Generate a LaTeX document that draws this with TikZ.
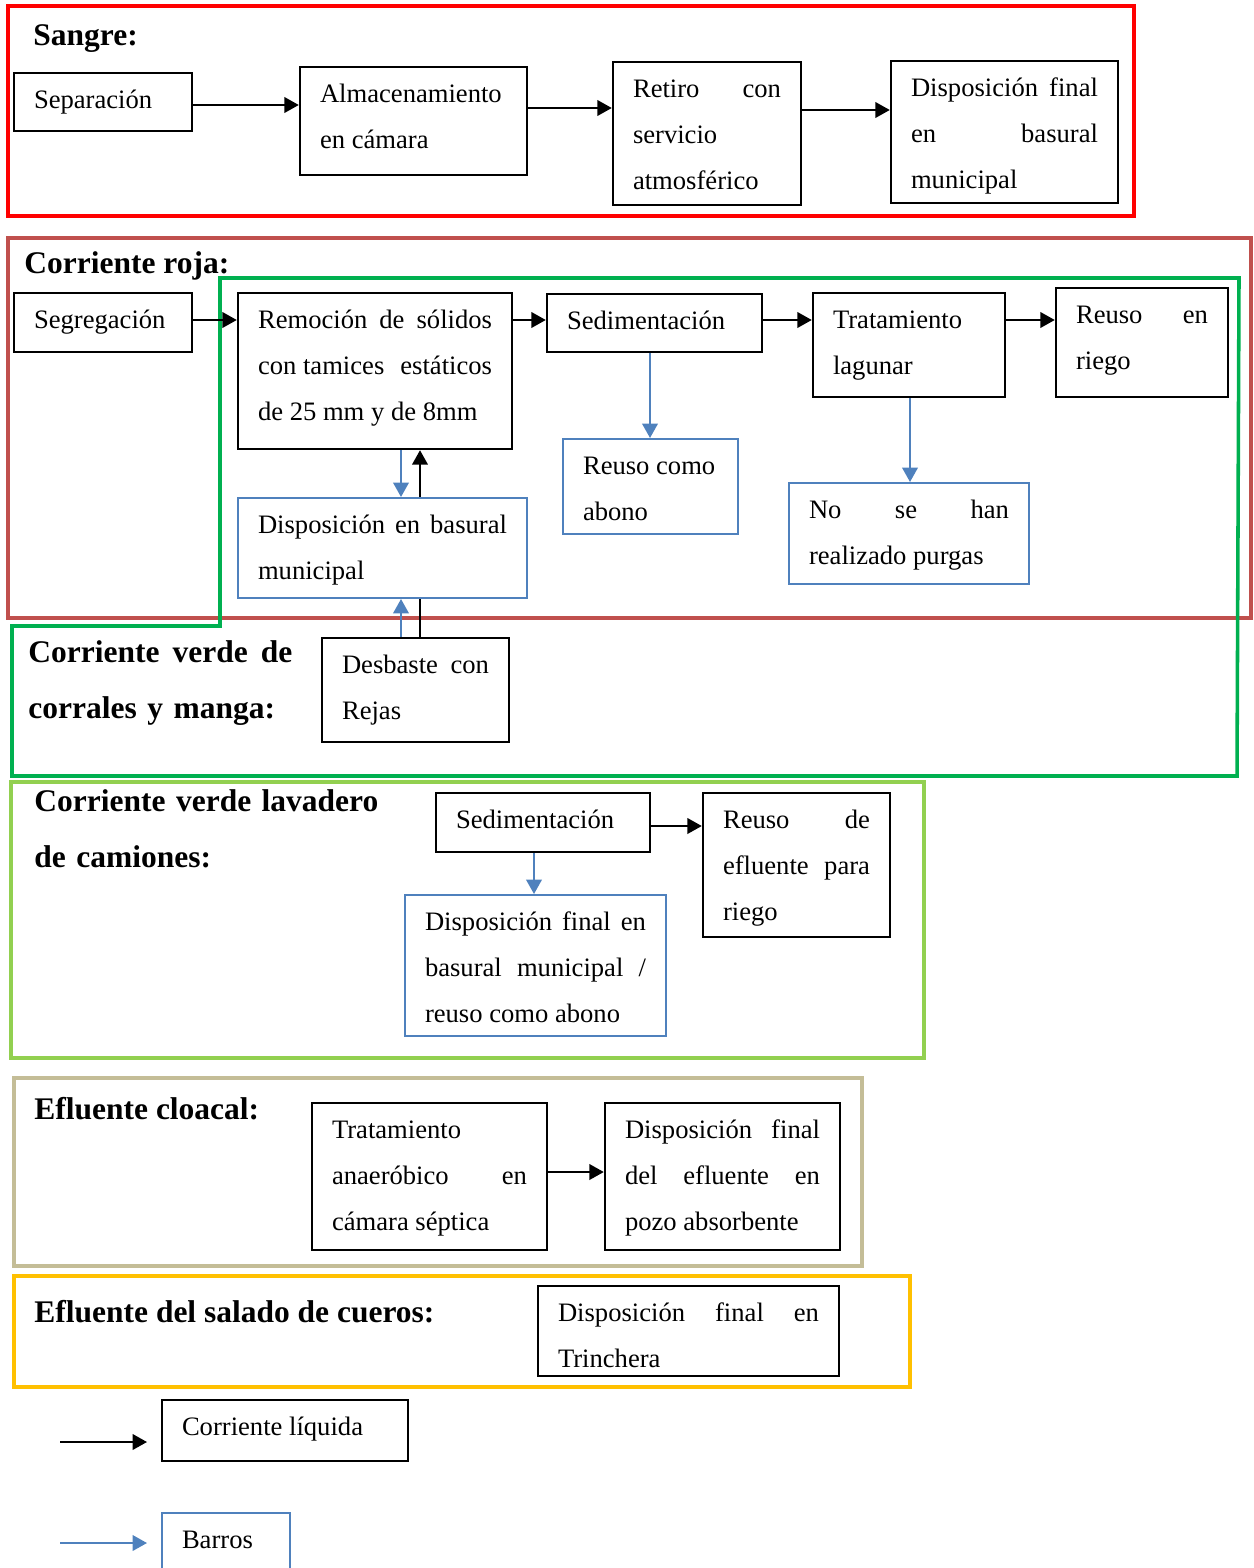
\documentclass[tikz,border=0pt]{standalone}
\usepackage{fontspec}
\setmainfont{Liberation Serif}
\usetikzlibrary{arrows.meta,calc}
\definecolor{cRed}{RGB}{255,0,0}
\definecolor{cRoja}{RGB}{192,80,77}
\definecolor{cGreen}{RGB}{0,176,80}
\definecolor{cLGreen}{RGB}{146,208,80}
\definecolor{cTan}{RGB}{196,189,151}
\definecolor{cGold}{RGB}{255,192,0}
\definecolor{cBlue}{RGB}{79,129,189}
\newcommand\bodyfont{\fontsize{12}{20.75}\selectfont}
\newcommand\headfont{\fontsize{14.2}{25.3}\selectfont\bfseries}
\newcommand\mkbox[7]{%
 \pgfmathsetlengthmacro\bw{(#4-#2)*0.451pt}%
 \pgfmathsetlengthmacro\bh{(#5-#3)*0.451pt}%
 \pgfmathsetlengthmacro\tw{(#4-#2-40)*0.451pt}%
 \node[#6, minimum width=\bw, minimum height=\bh] (#1) at ({(#2+#4)/2},{(#3+#5)/2})
   {\parbox[c][\bh][t]{\tw}{\raggedright\rule{0pt}{15.8pt}#7}};}
\tikzset{
 box/.style={draw=black, line width=1.1pt, inner sep=0pt, font=\bodyfont},
 bbox/.style={box, draw=cBlue, line width=0.9pt},
 frame/.style={line width=1.6pt},
 larr/.style={draw=black, line width=1pt, -{Triangle[length=6.5pt,width=7pt]}},
 barr/.style={draw=cBlue, line width=1pt, -{Triangle[length=6.5pt,width=7pt]}},
 lline/.style={draw=black, line width=1pt},
 head/.style={font=\headfont, inner sep=0pt, anchor=base west, align=left},
}
\begin{document}
\begin{tikzpicture}[x=0.451pt,y=-0.451pt]
\useasboundingbox (0,0) rectangle (1253,1568);
\clip (0,0) rectangle (1253,1568);
% frames
\draw[frame, cRed] (8,6) rectangle (1134,216);
\draw[frame, cRoja] (8,238) rectangle (1251,618);
\draw[frame, cGreen] (220,278) -- (1239,278) -- (1237,776) -- (12,776) -- (12,626) -- (220,626) -- cycle;
\draw[frame, cLGreen] (11,782) rectangle (924,1058);
\draw[frame, cTan] (14,1078) rectangle (862,1266);
\draw[frame, cGold] (14,1276) rectangle (910,1387);
% headings
\node[head] (hS) at (33,46) {Sangre:};
\node[head] (hR) at (24,274) {Corriente roja:};
\pgfmathsetlengthmacro\hw{264*0.451pt}
\node[head, text width=\hw] (hV) at (28,662) {Corriente\hfill verde\hfill de\\corrales y manga:};
\pgfmathsetlengthmacro\hwb{380*0.451pt}
\node[head, text width=\hwb] (hL) at (34,811) {Corriente verde lavadero\\de camiones:};
\node[head] (hC) at (34,1119) {Efluente cloacal:};
\node[head] (hSa) at (34,1322) {Efluente del salado de cueros:};
% Sangre
\mkbox{sep}{14}{73}{192}{131}{box}{Separación}
\mkbox{alm}{300}{67}{527}{175}{box}{Almacenamiento\\en cámara}
\mkbox{ret}{613}{62}{801}{205}{box}{Retiro\hfill con\\servicio\\atmosférico}
\mkbox{dfs}{891}{61}{1118}{203}{box}{Disposición\hfill final\\en\hfill basural\\municipal}
\draw[larr] (sep.east |- 0,105) -- (alm.west |- 0,105);
\draw[larr] (alm.east |- 0,108) -- (ret.west |- 0,108);
\draw[larr] (ret.east |- 0,110) -- (dfs.west |- 0,110);
% Corriente roja
\mkbox{seg}{14}{293}{192}{352}{box}{Segregación}
\mkbox{rem}{238}{293}{512}{449}{box}{Remoción\hfill de\hfill sólidos\\con tamices\hfill estáticos\\de 25 mm y de 8mm}
\mkbox{sed}{547}{294}{762}{352}{box}{Sedimentación}
\mkbox{tra}{813}{293}{1005}{397}{box}{Tratamiento\\lagunar}
\mkbox{reu}{1056}{288}{1228}{397}{box}{Reuso\hfill en\\riego}
\mkbox{abo}{563}{439}{738}{534}{bbox}{Reuso como\\abono}
\mkbox{pur}{789}{483}{1029}{584}{bbox}{No\hfill se\hfill han\\realizado purgas}
\mkbox{dbm}{238}{498}{527}{598}{bbox}{Disposición\hfill en\hfill basural\\municipal}
\mkbox{des}{322}{638}{509}{742}{box}{Desbaste\hfill con\\Rejas}
\draw[larr] (seg.east |- 0,320) -- (rem.west |- 0,320);
\draw[larr] (rem.east |- 0,320) -- (sed.west |- 0,320);
\draw[larr] (sed.east |- 0,320) -- (tra.west |- 0,320);
\draw[larr] (tra.east |- 0,320) -- (reu.west |- 0,320);
\draw[barr] (650,0 |- sed.south) -- (650,0 |- abo.north);
\draw[barr] (910,0 |- tra.south) -- (910,0 |- pur.north);
\draw[barr] (401,0 |- rem.south) -- (401,0 |- dbm.north);
\draw[larr] (420,0 |- dbm.north) -- (420,0 |- rem.south);
\draw[lline] (420,0 |- des.north) -- (420,0 |- dbm.south);
\draw[barr] (401,0 |- des.north) -- (401,0 |- dbm.south);
% Lavadero
\mkbox{sedb}{436}{793}{650}{852}{box}{Sedimentación}
\mkbox{reb}{703}{793}{890}{937}{box}{Reuso\hfill de\\efluente\hfill para\\riego}
\mkbox{dfb}{405}{895}{666}{1036}{bbox}{Disposición\hfill final\hfill en\\basural\hfill municipal\hfill /\\reuso como abono}
\draw[larr] (sedb.east |- 0,826) -- (reb.west |- 0,826);
\draw[barr] (534,0 |- sedb.south) -- (534,0 |- dfb.north);
% Cloacal
\mkbox{ana}{312}{1103}{547}{1250}{box}{Tratamiento\\anaeróbico\hfill en\\cámara séptica}
\mkbox{poz}{605}{1103}{840}{1250}{box}{Disposición\hfill final\\del\hfill efluente\hfill en\\pozo absorbente}
\draw[larr] (ana.east |- 0,1172) -- (poz.west |- 0,1172);
% Salado
\mkbox{tri}{538}{1286}{839}{1376}{box}{Disposición\hfill final\hfill en\\Trinchera}
% Legend
\mkbox{lq}{162}{1400}{408}{1461}{box}{Corriente líquida}
\mkbox{ba}{162}{1513}{290}{1572}{bbox}{Barros}
\coordinate (l1s) at (60,1442);
\coordinate (l2s) at (60,1543);
\draw[larr] (l1s) -- (l1s -| 147,0);
\draw[barr] (l2s) -- (l2s -| 147,0);
\end{tikzpicture}
\end{document}
